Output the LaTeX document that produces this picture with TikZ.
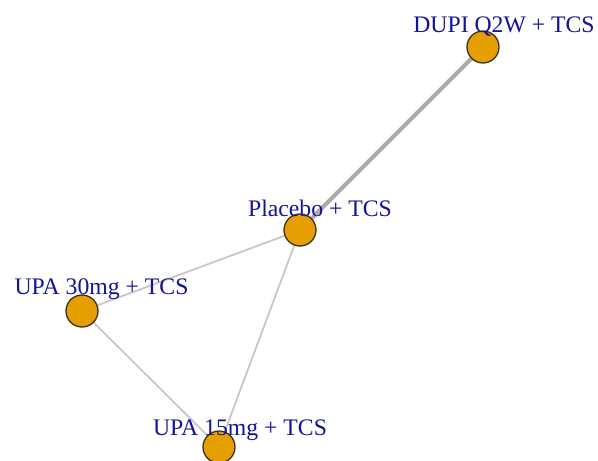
\documentclass[tikz,border=0pt]{standalone}
\usepackage{fontspec}
\setmainfont{Liberation Serif}
\definecolor{vtxfill}{RGB}{230,159,0}
\definecolor{vtxline}{RGB}{60,50,30}
\definecolor{lblblue}{RGB}{20,20,150}
\definecolor{edgethick}{RGB}{170,170,170}
\definecolor{edgethin}{RGB}{200,200,200}
\tikzset{
  vtx/.style={circle, draw=vtxline, fill=vtxfill, line width=1.3bp, minimum size=32bp, inner sep=0pt},
  lbl/.style={anchor=base, text=lblblue, font=\fontsize{23.8}{26}\selectfont, inner sep=0pt},
  heavy/.style={draw=edgethick, line width=4.2bp},
  light/.style={draw=edgethin, line width=1.8bp}
}
\begin{document}
\begin{tikzpicture}[x=1bp, y=-1bp]
  \fill[white] (0,0) rectangle (598,461);
  \useasboundingbox (0,0) rectangle (598,461);
  % vertex positions
  \coordinate (cd) at (483,47);
  \coordinate (cp) at (300,230);
  \coordinate (c30) at (82,311);
  \coordinate (c15) at (219,447);
  % edges
  \draw[heavy] (cd) -- (cp);
  \draw[light] (cp) -- (c30);
  \draw[light] (cp) -- (c15);
  \draw[light] (c30) -- (c15);
  % vertices
  \node[vtx] (d) at (cd) {};
  \node[vtx] (p) at (cp) {};
  \node[vtx] (u30) at (c30) {};
  \node[vtx] (u15) at (c15) {};
  % labels
  \node[lbl] (ld) at (504,33) {DUPI Q2W + TCS};
  \node[lbl] (lp) at (320,217) {Placebo + TCS};
  \node[lbl] (l30) at (101.5,295) {UPA 30mg + TCS};
  \node[lbl] (l15) at (240,435) {UPA 15mg + TCS};
\end{tikzpicture}
\end{document}
